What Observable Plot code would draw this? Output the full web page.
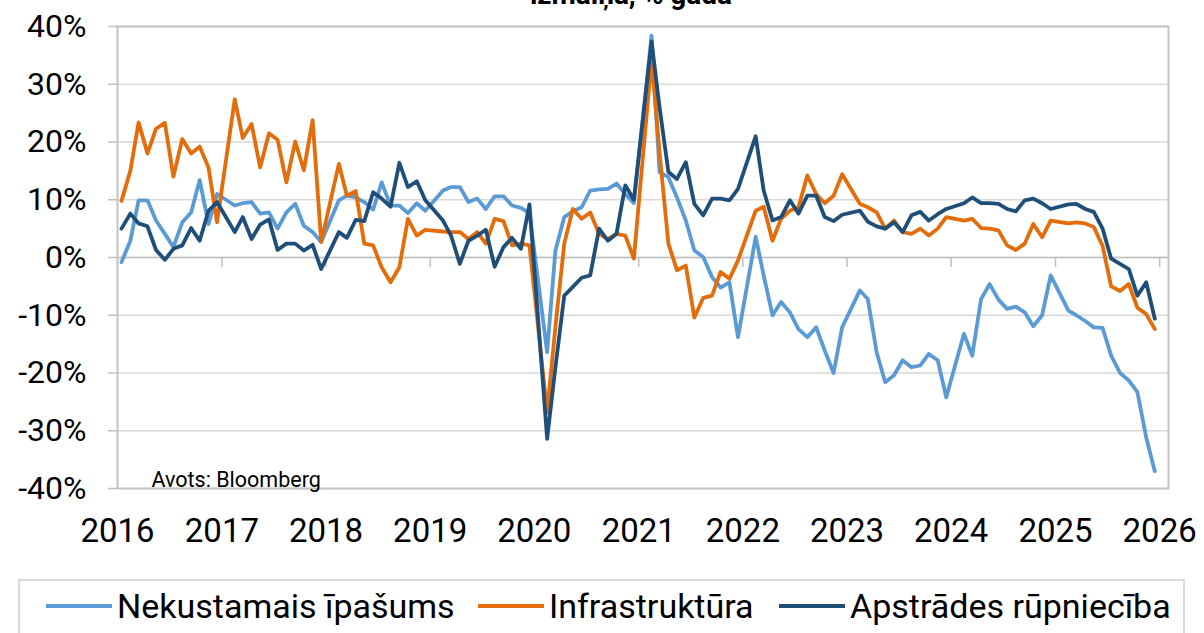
<!DOCTYPE html>
<html><head><meta charset="utf-8">
<script src="https://cdn.jsdelivr.net/npm/d3@7"></script>
<script src="https://cdn.jsdelivr.net/npm/@observablehq/plot@0.6"></script>
<style>
html,body{margin:0;padding:0;background:#fff;}
body{font-family:Roboto,sans-serif;width:1204px;height:633px;overflow:hidden;position:relative;color:#000;}
#title{position:absolute;top:-19px;left:0;width:1262px;text-align:center;font-weight:bold;font-size:28px;line-height:28px;white-space:nowrap;}
#chart{position:absolute;top:0;left:0;}
#legend{position:absolute;top:579px;left:18px;width:1163px;height:80px;border:2px solid #d9d9d9;box-sizing:content-box;}
.item{position:absolute;top:5px;height:40px;display:flex;align-items:center;font-size:34px;white-space:nowrap;}
.swatch{width:66px;height:4px;margin-right:5px;}
</style></head>
<body>
<div id="chart"></div>
<div id="title"></div>
<div id="legend"></div>
<script>
// ---- data (monthly y/y %, Jan 2016 .. Dec 2025; January combined with February -> null) ----
const titleText = "izmaiņa, % gadā";
const sourceText = "Avots: Bloomberg";
const seriesNames = ["Nekustamais īpašums", "Infrastruktūra", "Apstrādes rūpniecība"];
const seriesColors = ["#5B9BD5", "#E46C0A", "#1F4E79"];
const firstYear = 2016;
const yTicks = [-40, -30, -20, -10, 0, 10, 20, 30, 40];
const xTickYears = [2016, 2017, 2018, 2019, 2020, 2021, 2022, 2023, 2024, 2025, 2026];

const realEstate = [
  -0.8, 2.9, 9.9, 9.9, 6.4, 4.1, 1.8, 6.1, 7.8, 13.4, 5.8, 11.0,
  null, 9.0, 9.4, 9.6, 7.6, 7.8, 5.0, 7.8, 9.3, 5.5, 4.4, 2.7,
  null, 9.9, 10.7, 10.4, 9.6, 8.3, 13.0, 9.0, 9.0, 7.7, 9.4, 8.1,
  null, 11.6, 12.2, 12.2, 9.6, 10.2, 8.4, 10.6, 10.6, 9.0, 8.6, 7.7,
  null, -16.4, 1.2, 7.0, 8.0, 8.7, 11.6, 11.8, 11.9, 12.8, 11.0, 9.4,
  null, 38.4, 14.8, 13.9, 10.4, 6.4, 1.2, 0.1, -3.4, -5.2, -4.3, -13.8,
  null, 3.6, -3.1, -10.0, -7.7, -9.5, -12.4, -13.8, -12.1, -16.1, -20.0, -12.1,
  null, -5.7, -7.2, -16.4, -21.6, -20.4, -17.8, -19.0, -18.7, -16.7, -17.8, -24.2,
  null, -13.2, -17.0, -7.2, -4.6, -7.3, -8.9, -8.5, -9.5, -11.9, -10.0, -3.1,
  null, -9.2, -10.0, -11.0, -12.1, -12.2, -17.0, -20.0, -21.3, -23.3, -31.2, -37.0
];
const infrastructure = [
  9.8, 15.0, 23.4, 18.0, 22.3, 23.3, 14.0, 20.5, 18.0, 19.2, 15.6, 6.1,
  null, 27.4, 20.7, 23.1, 15.6, 21.5, 20.4, 13.0, 20.1, 15.1, 23.8, 2.7,
  null, 16.2, 10.7, 11.5, 2.4, 2.1, -1.7, -4.3, -1.7, 6.7, 3.8, 4.8,
  null, 4.5, 4.4, 4.4, 3.2, 4.4, 2.4, 6.7, 6.3, 2.1, 2.4, 2.1,
  null, -26.8, -12.0, 2.4, 8.4, 6.7, 7.8, 4.1, 3.2, 4.1, 3.8, -0.2,
  null, 34.3, 18.2, 2.4, -2.2, -1.4, -10.4, -7.0, -6.6, -2.5, -3.7, -0.5,
  null, 8.1, 8.8, 2.9, 6.7, 8.1, 8.7, 14.2, 11.0, 9.4, 10.7, 14.4,
  null, 9.3, 8.7, 7.8, 5.0, 6.4, 4.4, 4.1, 5.0, 3.8, 5.0, 7.0,
  null, 6.4, 6.7, 5.1, 5.0, 4.7, 2.1, 1.3, 2.4, 5.8, 3.5, 6.4,
  null, 5.9, 6.1, 5.9, 5.3, 2.0, -5.0, -5.8, -4.6, -8.7, -9.8, -12.4
];
const manufacturing = [
  5.0, 7.6, 5.9, 5.4, 1.3, -0.4, 1.5, 2.1, 5.1, 2.9, 8.1, 9.6,
  null, 4.4, 7.0, 3.2, 5.7, 6.6, 1.3, 2.4, 2.4, 1.2, 2.2, -2.0,
  null, 4.4, 3.4, 6.5, 6.3, 11.3, 10.2, 8.8, 16.4, 12.2, 13.2, 9.9,
  null, 6.4, 3.8, -1.1, 2.9, 3.8, 4.8, -1.6, 1.8, 3.4, 1.5, 9.2,
  null, -31.4, -19.0, -6.6, -5.1, -3.5, -3.1, 5.0, 2.9, 4.1, 12.5, 10.0,
  null, 37.4, 26.0, 14.8, 13.6, 16.5, 9.3, 7.3, 10.2, 10.2, 9.9, 11.9,
  null, 21.0, 11.6, 6.4, 7.0, 9.9, 7.6, 10.7, 10.7, 7.0, 6.3, 7.4,
  null, 8.1, 6.2, 5.4, 5.0, 6.1, 4.4, 7.3, 7.9, 6.4, 7.5, 8.4,
  null, 9.4, 10.4, 9.4, 9.4, 9.3, 8.4, 8.0, 9.9, 10.2, 9.4, 8.4,
  null, 9.2, 9.3, 8.4, 7.9, 5.0, -0.2, -1.1, -2.0, -6.6, -4.3, -10.6
];
const seriesValues = [realEstate, infrastructure, manufacturing];

// ---- build table ----
const monthDate = i => new Date(Date.UTC(firstYear + Math.floor(i / 12), i % 12, 15));
const table = seriesNames.map((name, s) =>
  seriesValues[s].map((v, i) => ({series: name, date: monthDate(i), value: v})).filter(d => d.value != null)
);
const yearDates = xTickYears.map(y => new Date(Date.UTC(y, 0, 1)));

document.getElementById("title").textContent = titleText;

const chart = Plot.plot({
  width: 1204,
  height: 565,
  marginLeft: 117,
  marginRight: 36,
  marginTop: 26,
  marginBottom: 77,
  style: {fontFamily: "Roboto, sans-serif", fontSize: "32px", color: "#000", background: "transparent"},
  x: {type: "utc", domain: [new Date(Date.UTC(2016, 0, 1)), new Date(Date.UTC(2026, 1, 1))]},
  y: {domain: [-40, 40]},
  marks: [
    Plot.gridY(yTicks, {stroke: "#d9d9d9", strokeOpacity: 1, strokeWidth: 1.5}),
    Plot.ruleY([0], {stroke: "#bfbfbf", strokeWidth: 1.5}),
    Plot.ruleX(yearDates, {x: d => d, y1: 0, y2: 0, insetBottom: -10, stroke: "#bfbfbf", strokeWidth: 1.5}),
    Plot.frame({stroke: "#c4c4c4", strokeWidth: 2}),
    ...table.map((rows, s) => Plot.line(rows, {
      x: "date", y: "value", stroke: seriesColors[s], strokeWidth: 3.8,
      strokeLinejoin: "round", strokeLinecap: "round"
    })),
    Plot.axisY(yTicks, {tickSize: 9, tickPadding: 22, tickFormat: d => d + "%", stroke: "#bfbfbf", strokeWidth: 1.5, fill: "#000", label: null}),
    Plot.axisX(yearDates, {tickSize: 0, tickPadding: 30, tickFormat: d => String(d.getUTCFullYear()), fill: "#000", fontSize: 33, label: null}),
    Plot.text([sourceText], {text: d => d, frameAnchor: "bottom-left", textAnchor: "start", dx: 34, dy: -2, fontSize: 21.5, fill: "#000"})
  ]
});
document.getElementById("chart").appendChild(chart);

// ---- legend ----
const legend = document.getElementById("legend");
const itemLeft = [26, 458, 759];
seriesNames.forEach((name, s) => {
  const it = document.createElement("div");
  it.className = "item";
  it.style.left = itemLeft[s] + "px";
  const sw = document.createElement("div");
  sw.className = "swatch";
  sw.style.background = seriesColors[s];
  const tx = document.createElement("span");
  tx.textContent = name;
  it.appendChild(sw); it.appendChild(tx);
  legend.appendChild(it);
});
</script>
</body></html>
